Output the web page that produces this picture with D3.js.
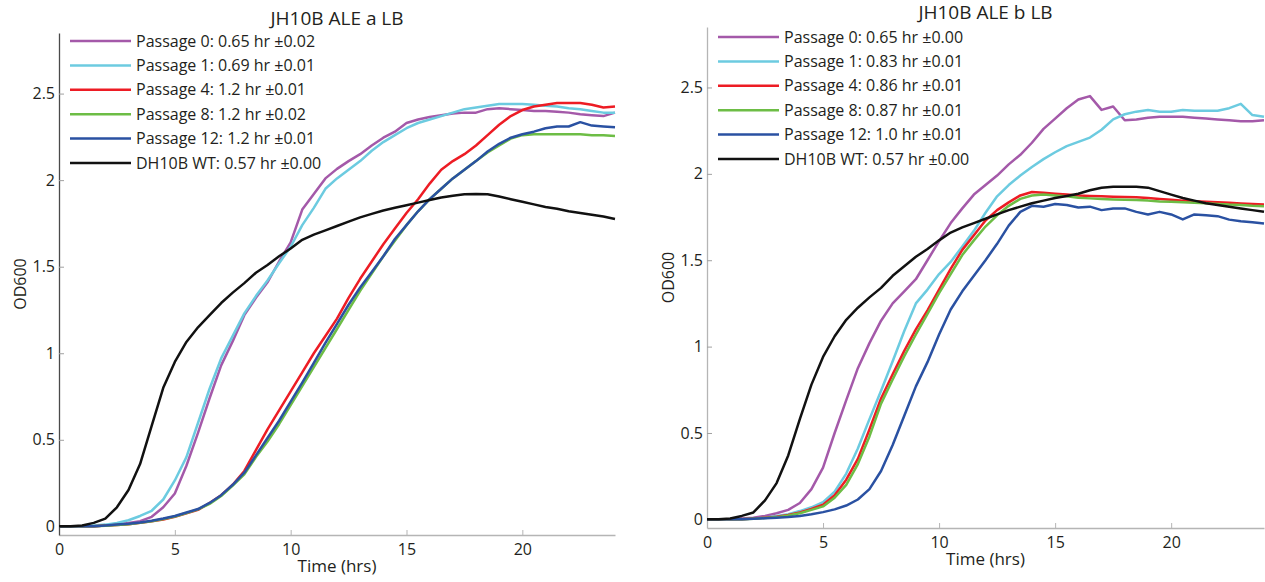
<!DOCTYPE html>
<meta charset="utf-8">
<script src="https://d3js.org/d3.v7.min.js"></script>
<style>
  body { margin: 0; background: #fff; }
  text { font-family: "Open Sans", Lato, sans-serif; fill: #231f20; }
</style>
<div id="chart"></div>
<script>
// time points (hrs)
const hours = [0,0.5,1,1.5,2,2.5,3,3.5,4,4.5,5,5.5,6,6.5,7,7.5,8,8.5,9,9.5,10,10.5,11,11.5,12,
  12.5,13,13.5,14,14.5,15,15.5,16,16.5,17,17.5,18,18.5,19,19.5,20,20.5,21,21.5,22,22.5,23,23.5,24];

// panel a (OD600)
const aP0 = [0,0,0,0,0.005,0.01,0.02,0.03,0.055,0.11,0.19,0.35,0.54,0.74,0.93,1.07,1.22,1.32,1.41,1.53,1.64,1.83,1.92,2.01,2.065,2.11,2.15,2.20,2.245,2.28,2.33,2.35,2.365,2.375,2.385,2.39,2.39,2.41,2.415,2.41,2.405,2.40,2.40,2.395,2.39,2.38,2.375,2.37,2.39];
const aP1 = [0,0,0,0.005,0.01,0.02,0.035,0.06,0.09,0.155,0.265,0.40,0.597,0.795,0.97,1.10,1.23,1.33,1.42,1.52,1.615,1.74,1.84,1.95,2.01,2.06,2.11,2.17,2.22,2.26,2.30,2.33,2.35,2.37,2.39,2.41,2.42,2.43,2.44,2.44,2.44,2.435,2.43,2.425,2.415,2.41,2.40,2.39,2.39];
const aP4 = [0,0,0,0,0.005,0.008,0.012,0.02,0.03,0.04,0.055,0.075,0.095,0.135,0.18,0.24,0.32,0.44,0.56,0.67,0.78,0.89,1.00,1.10,1.20,1.32,1.43,1.53,1.63,1.72,1.81,1.89,1.98,2.06,2.11,2.15,2.20,2.26,2.32,2.37,2.405,2.425,2.435,2.445,2.445,2.445,2.435,2.42,2.425];
const aP8 = [0,0,0,0,0.004,0.008,0.012,0.02,0.03,0.042,0.057,0.077,0.098,0.13,0.175,0.235,0.30,0.40,0.49,0.59,0.70,0.81,0.92,1.03,1.14,1.25,1.36,1.46,1.56,1.65,1.74,1.82,1.89,1.95,2.01,2.06,2.11,2.16,2.20,2.24,2.26,2.265,2.265,2.265,2.265,2.265,2.26,2.26,2.255];
const aP12 = [0,0,0,0,0.005,0.01,0.015,0.022,0.032,0.045,0.06,0.08,0.10,0.135,0.18,0.24,0.31,0.41,0.51,0.61,0.72,0.83,0.945,1.06,1.17,1.28,1.38,1.47,1.56,1.66,1.74,1.82,1.89,1.95,2.01,2.06,2.11,2.165,2.21,2.245,2.265,2.28,2.30,2.31,2.31,2.335,2.315,2.31,2.305];
const aWT = [0,0,0.005,0.02,0.045,0.11,0.21,0.36,0.58,0.80,0.95,1.065,1.15,1.22,1.29,1.35,1.405,1.465,1.51,1.56,1.605,1.655,1.685,1.71,1.735,1.76,1.785,1.805,1.825,1.84,1.855,1.87,1.885,1.90,1.91,1.918,1.92,1.918,1.905,1.89,1.875,1.86,1.845,1.835,1.82,1.81,1.80,1.79,1.775];

// panel b (OD600)
const bP0 = [0,0,0,0.005,0.01,0.02,0.035,0.055,0.095,0.175,0.30,0.50,0.69,0.875,1.02,1.15,1.25,1.32,1.39,1.50,1.61,1.715,1.80,1.88,1.935,1.99,2.055,2.11,2.18,2.26,2.32,2.38,2.43,2.45,2.37,2.39,2.31,2.315,2.325,2.33,2.33,2.33,2.325,2.32,2.315,2.31,2.305,2.305,2.31];
const bP1 = [0,0,0,0,0.005,0.01,0.02,0.03,0.048,0.07,0.10,0.16,0.265,0.41,0.58,0.745,0.915,1.09,1.25,1.33,1.42,1.49,1.58,1.67,1.775,1.87,1.935,1.99,2.04,2.085,2.125,2.16,2.185,2.21,2.255,2.315,2.345,2.36,2.37,2.36,2.36,2.37,2.365,2.365,2.365,2.38,2.405,2.34,2.33];
const bP4 = [0,0,0,0,0.005,0.01,0.015,0.025,0.04,0.06,0.085,0.14,0.23,0.35,0.52,0.70,0.84,0.975,1.10,1.21,1.33,1.45,1.56,1.645,1.73,1.79,1.835,1.875,1.895,1.89,1.885,1.88,1.875,1.872,1.87,1.868,1.866,1.865,1.86,1.855,1.85,1.845,1.842,1.838,1.835,1.832,1.828,1.825,1.822];
const bP8 = [0,0,0,0,0.004,0.008,0.013,0.022,0.035,0.055,0.075,0.125,0.20,0.32,0.48,0.67,0.81,0.945,1.07,1.19,1.31,1.42,1.53,1.615,1.695,1.76,1.815,1.855,1.875,1.88,1.875,1.87,1.862,1.858,1.855,1.852,1.85,1.848,1.845,1.84,1.838,1.835,1.832,1.83,1.826,1.822,1.82,1.815,1.812];
const bP12 = [0,0,0,0,0.003,0.006,0.01,0.014,0.02,0.03,0.042,0.058,0.08,0.115,0.175,0.28,0.43,0.60,0.77,0.91,1.07,1.215,1.32,1.41,1.50,1.595,1.70,1.78,1.815,1.81,1.825,1.82,1.805,1.81,1.79,1.80,1.80,1.78,1.765,1.78,1.765,1.736,1.765,1.76,1.755,1.735,1.725,1.72,1.713];
const bWT = [0,0,0.005,0.02,0.04,0.11,0.21,0.37,0.58,0.78,0.94,1.06,1.155,1.225,1.285,1.34,1.41,1.465,1.52,1.565,1.615,1.66,1.69,1.715,1.74,1.765,1.79,1.81,1.83,1.845,1.86,1.872,1.885,1.905,1.92,1.925,1.925,1.925,1.92,1.90,1.88,1.86,1.845,1.83,1.82,1.81,1.80,1.79,1.78];

// legend labels
const aLabels = ["Passage 0: 0.65 hr \u00b10.02", "Passage 1: 0.69 hr \u00b10.01", "Passage 4: 1.2 hr \u00b10.01",
  "Passage 8: 1.2 hr \u00b10.02", "Passage 12: 1.2 hr \u00b10.01", "DH10B WT: 0.57 hr \u00b10.00"];
const bLabels = ["Passage 0: 0.65 hr \u00b10.00", "Passage 1: 0.83 hr \u00b10.01", "Passage 4: 0.86 hr \u00b10.01",
  "Passage 8: 0.87 hr \u00b10.01", "Passage 12: 1.0 hr \u00b10.01", "DH10B WT: 0.57 hr \u00b10.00"];

const colors = ["#a459a9", "#6ccbe0", "#ed1c24", "#6dbd45", "#2a51a2", "#111111"];
const yTicks = [0, 0.5, 1, 1.5, 2, 2.5];
const xTicks = [0, 5, 10, 15, 20];

const svg = d3.select("#chart").append("svg")
  .attr("width", 1265)
  .attr("height", 582);

function drawPanel(p) {
  const x = d3.scaleLinear().domain([0, 24]).range([p.left, p.right]);
  const y = d3.scaleLinear().domain([-0.05, 2.85]).range([p.bottom, p.top]);
  const g = svg.append("g");

  // x axis
  const xAxis = g.append("g")
    .attr("transform", `translate(0,${p.bottom})`)
    .call(d3.axisBottom(x).tickValues(xTicks).tickSize(-5).tickPadding(9).tickSizeOuter(0));
  xAxis.select(".domain").attr("stroke", "#b5b5b5").attr("stroke-width", 1.3);
  xAxis.selectAll(".tick line").attr("stroke", "#b5b5b5");
  xAxis.selectAll("text").style("font-size", "16px").attr("fill", "#231f20");

  // y axis
  const yAxis = g.append("g")
    .attr("transform", `translate(${p.left},0)`)
    .call(d3.axisLeft(y).tickValues(yTicks).tickSize(-5).tickPadding(4).tickSizeOuter(0)
      .tickFormat(d => d3.format("~g")(d)));
  yAxis.select(".domain").attr("stroke", p.yAxisColor).attr("stroke-width", 1.3);
  yAxis.selectAll(".tick line").attr("stroke", "#a0a0a0");
  yAxis.selectAll("text").style("font-size", "16px").attr("fill", "#231f20");

  // curves
  const line = d3.line().x((d, i) => x(hours[i])).y(d => y(d));
  p.series.forEach((s, i) => {
    g.append("path")
      .datum(s)
      .attr("d", line)
      .attr("fill", "none")
      .attr("stroke", colors[i])
      .attr("stroke-width", 2.5)
      .attr("stroke-linejoin", "round");
  });

  // legend
  const leg = g.append("g");
  p.labels.forEach((lab, i) => {
    const ly = p.legendTop + i * 24.4;
    leg.append("line")
      .attr("x1", p.left + 11).attr("x2", p.left + 72)
      .attr("y1", ly).attr("y2", ly)
      .attr("stroke", colors[i]).attr("stroke-width", 2.5);
    leg.append("text")
      .attr("x", p.left + 77).attr("y", ly + 5.5)
      .style("font-size", "16px")
      .text(lab);
  });

  // title and axis labels
  const cx = (p.left + p.right) / 2;
  g.append("text").attr("x", cx).attr("y", p.top - 8)
    .attr("text-anchor", "middle").style("font-size", "19px").text(p.title);
  g.append("text").attr("x", cx).attr("y", p.bottom + 37)
    .attr("text-anchor", "middle").style("font-size", "17px").text("Time (hrs)");
  g.append("text")
    .attr("transform", `translate(${p.left - 33},${(p.top + p.bottom) / 2}) rotate(-90)`)
    .attr("text-anchor", "middle").style("font-size", "16px").text("OD600");
}

drawPanel({
  left: 59, right: 615, top: 33, bottom: 535,
  yAxisColor: "#4a4a4a", legendTop: 41,
  title: "JH10B ALE a LB", labels: aLabels,
  series: [aP0, aP1, aP4, aP8, aP12, aWT]
});

drawPanel({
  left: 707, right: 1264, top: 27, bottom: 528,
  yAxisColor: "#b5b5b5", legendTop: 37,
  title: "JH10B ALE b LB", labels: bLabels,
  series: [bP0, bP1, bP4, bP8, bP12, bWT]
});
</script>
